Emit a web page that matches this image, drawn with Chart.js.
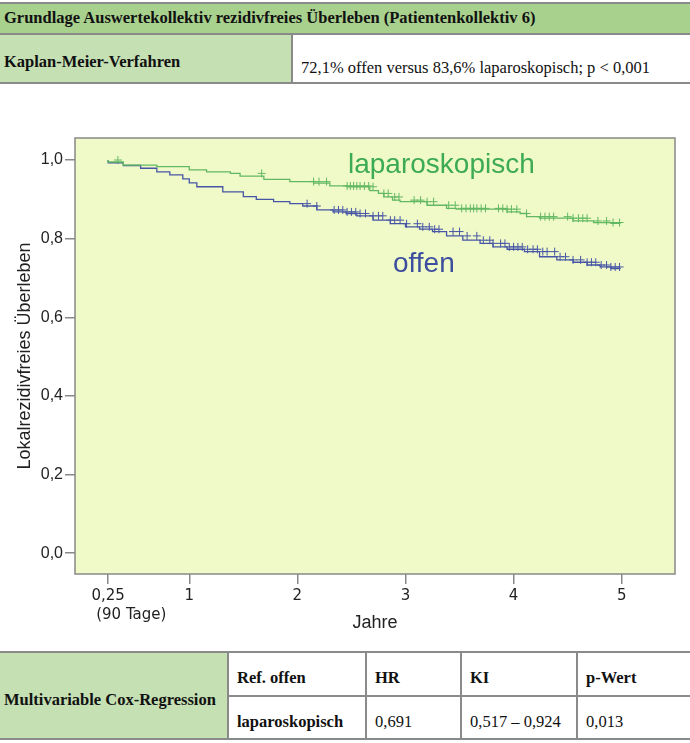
<!DOCTYPE html>
<html>
<head>
<meta charset="utf-8">
<script src="https://cdn.jsdelivr.net/npm/chart.js@4.4.1/dist/chart.umd.min.js"></script>
<style>
  body { margin: 0; width: 690px; height: 743px; background: #fff; position: relative; overflow: hidden; }
  .box { position: absolute; box-sizing: border-box; }
  .hl { position: absolute; height: 2px; background: #8a8a8a; }
  .vl { position: absolute; width: 2px; background: #8a8a8a; }
  .t { position: absolute; font-family: "Liberation Serif", serif; font-size: 16.5px; color: #111; white-space: nowrap; line-height: 20px; }
  .b { font-weight: bold; }
</style>
</head>
<body>
<!-- top table -->
<div class="box" style="left:0;top:3px;width:690px;height:31px;background:#a9d18e"></div>
<div class="box" style="left:0;top:34px;width:292px;height:49px;background:#c5e0b3"></div>
<div class="hl" style="left:0;top:2px;width:690px"></div>
<div class="hl" style="left:0;top:33px;width:690px"></div>
<div class="hl" style="left:0;top:82px;width:690px"></div>
<div class="vl" style="left:291px;top:33px;height:50px"></div>
<div class="t b" style="left:4px;top:8px">Grundlage Auswertekollektiv rezidivfreies Überleben (Patientenkollektiv 6)</div>
<div class="t b" style="left:4px;top:52px">Kaplan-Meier-Verfahren</div>
<div class="t" style="left:301px;top:58px">72,1% offen versus 83,6% laparoskopisch; p &lt; 0,001</div>

<div style="position:absolute;left:0;top:95px;width:690px;height:550px"><canvas id="km"></canvas></div>

<!-- bottom table -->
<div class="box" style="left:0;top:652px;width:228px;height:87px;background:#c5e0b3"></div>
<div class="hl" style="left:0;top:651px;width:690px"></div>
<div class="hl" style="left:228px;top:695px;width:462px"></div>
<div class="hl" style="left:0;top:738px;width:690px"></div>
<div class="vl" style="left:227px;top:651px;height:89px"></div>
<div class="vl" style="left:365px;top:651px;height:89px"></div>
<div class="vl" style="left:460px;top:651px;height:89px"></div>
<div class="vl" style="left:576px;top:651px;height:89px"></div>
<div class="t b" style="left:4px;top:690px">Multivariable Cox-Regression</div>
<div class="t b" style="left:237px;top:668px">Ref. offen</div>
<div class="t b" style="left:375px;top:668px">HR</div>
<div class="t b" style="left:470px;top:668px">KI</div>
<div class="t b" style="left:586px;top:668px">p-Wert</div>
<div class="t b" style="left:237px;top:712px">laparoskopisch</div>
<div class="t" style="left:375px;top:712px">0,691</div>
<div class="t" style="left:470px;top:712px">0,517 – 0,924</div>
<div class="t" style="left:586px;top:712px">0,013</div>

<script>
// Kaplan-Meier curves (years, survival)
const lapTime = [0.25, 0.39, 0.70, 1.00, 1.16, 1.38, 1.47, 1.69, 1.93, 2.15, 2.30, 2.46, 2.67, 2.75, 2.80, 2.88, 2.95, 3.20, 3.38, 3.47, 3.94, 4.06, 4.12, 4.24, 4.55, 4.74, 4.90, 4.99];
const lapSurv = [1.000, 0.995, 0.987, 0.983, 0.975, 0.970, 0.966, 0.959, 0.951, 0.945, 0.941, 0.934, 0.932, 0.922, 0.915, 0.906, 0.898, 0.894, 0.885, 0.877, 0.875, 0.868, 0.864, 0.856, 0.852, 0.845, 0.841, 0.839];

const offTime = [0.25, 0.39, 0.55, 0.70, 0.82, 0.94, 1.00, 1.07, 1.31, 1.50, 1.62, 1.78, 1.93, 2.05, 2.18, 2.33, 2.45, 2.55, 2.70, 2.86, 3.00, 3.13, 3.25, 3.38, 3.53, 3.69, 3.81, 3.94, 4.10, 4.24, 4.40, 4.55, 4.68, 4.80, 4.90, 4.99];
const offSurv = [1.000, 0.993, 0.986, 0.979, 0.970, 0.962, 0.952, 0.942, 0.932, 0.919, 0.907, 0.900, 0.894, 0.889, 0.883, 0.873, 0.868, 0.864, 0.858, 0.847, 0.838, 0.830, 0.824, 0.818, 0.807, 0.796, 0.788, 0.779, 0.773, 0.767, 0.754, 0.746, 0.740, 0.733, 0.728, 0.724];

// censored cases (years)
const lapCensor = [0.34, 1.67, 2.15, 2.20, 2.27, 2.46, 2.49, 2.52, 2.55, 2.58, 2.62, 2.66, 2.70, 2.80, 2.84, 2.90, 2.94, 3.08, 3.14, 3.20, 3.26, 3.40, 3.46, 3.52, 3.56, 3.60, 3.63, 3.66, 3.70, 3.74, 3.86, 3.90, 3.94, 3.98, 4.03, 4.12, 4.25, 4.29, 4.33, 4.37, 4.50, 4.55, 4.60, 4.64, 4.68, 4.78, 4.86, 4.92, 4.98];
const offCensor = [2.09, 2.18, 2.34, 2.38, 2.42, 2.46, 2.50, 2.54, 2.58, 2.63, 2.70, 2.75, 2.79, 2.86, 2.90, 2.95, 3.01, 3.11, 3.16, 3.22, 3.27, 3.31, 3.44, 3.50, 3.57, 3.66, 3.72, 3.78, 3.81, 3.88, 3.92, 3.96, 4.00, 4.04, 4.08, 4.13, 4.18, 4.22, 4.27, 4.31, 4.38, 4.43, 4.48, 4.55, 4.62, 4.68, 4.72, 4.76, 4.81, 4.86, 4.90, 4.94, 4.98];

const xTickValues = [0.25, 1, 2, 3, 4, 5];
const xTickLabels = ['0,25', '1', '2', '3', '4', '5'];
const yTickValues = [0, 0.2, 0.4, 0.6, 0.8, 1.0];
const yTickLabels = ['0,0', '0,2', '0,4', '0,6', '0,8', '1,0'];

const GREEN_LINE = '#62b862';
const GREEN_TEXT = '#3daa55';
const BLUE_LINE = '#4655a5';
const BLUE_TEXT = '#3d4e9e';
const AXIS = '#888888';

// survival at time t = last step at or before t
function survAt(times, surv, t) {
    let s = surv[0];
    for (let i = 0; i < times.length; i++) {
        if (times[i] <= t) s = surv[i];
    }
    return s;
}

const plotFrame = {
    id: 'plotFrame',
    beforeDraw(chart) {
        const { ctx, chartArea: a } = chart;
        ctx.save();
        ctx.fillStyle = '#f0fac8';
        ctx.fillRect(a.left, a.top, a.right - a.left, a.bottom - a.top);
        ctx.restore();
    },
    afterDraw(chart) {
        const { ctx, chartArea: a, scales: { x, y } } = chart;
        ctx.save();
        ctx.strokeStyle = AXIS;
        ctx.lineWidth = 1.5;
        ctx.strokeRect(a.left, a.top, a.right - a.left, a.bottom - a.top);

        ctx.font = '28px "Liberation Sans", Arial, sans-serif';
        ctx.textBaseline = 'alphabetic';
        ctx.textAlign = 'left';
        ctx.fillStyle = GREEN_TEXT;
        ctx.fillText('laparoskopisch', x.getPixelForValue(2.468), y.getPixelForValue(0.967));
        ctx.fillStyle = BLUE_TEXT;
        ctx.fillText('offen', x.getPixelForValue(2.884), y.getPixelForValue(0.716));

        // second line under the 0,25 tick
        ctx.font = '15px "DejaVu Sans", sans-serif';
        ctx.fillStyle = '#222';
        ctx.textBaseline = 'middle';
        ctx.fillText('(90 Tage)', x.getPixelForValue(0.25) - 12, a.bottom + 41);
        ctx.restore();
    }
};

new Chart(document.getElementById('km').getContext('2d'), {
    type: 'scatter',
    plugins: [plotFrame],
    data: {
        datasets: [
            {
                label: 'laparoskopisch',
                data: lapTime.map((t, i) => ({ x: t, y: lapSurv[i] })),
                showLine: true,
                stepped: 'after',
                borderColor: GREEN_LINE,
                borderWidth: 1.3,
                pointRadius: 0
            },
            {
                label: 'offen',
                data: offTime.map((t, i) => ({ x: t, y: offSurv[i] })),
                showLine: true,
                stepped: 'after',
                borderColor: BLUE_LINE,
                borderWidth: 1.3,
                pointRadius: 0
            },
            {
                label: 'laparoskopisch zensiert',
                data: lapCensor.map(t => ({ x: t, y: survAt(lapTime, lapSurv, t) })),
                pointStyle: 'cross',
                pointRadius: 4,
                borderColor: GREEN_LINE,
                borderWidth: 1
            },
            {
                label: 'offen zensiert',
                data: offCensor.map(t => ({ x: t, y: survAt(offTime, offSurv, t) })),
                pointStyle: 'cross',
                pointRadius: 4,
                borderColor: BLUE_LINE,
                borderWidth: 1
            }
        ]
    },
    options: {
        responsive: true,
        maintainAspectRatio: false,
        animation: false,
        layout: { padding: { top: 43, right: 15, bottom: 11, left: 0 } },
        plugins: { legend: { display: false }, tooltip: { enabled: false } },
        scales: {
            x: {
                type: 'linear',
                min: -0.057,
                max: 5.493,
                afterBuildTicks: s => { s.ticks = xTickValues.map(v => ({ value: v })); },
                afterFit: s => { s.height = 60; },
                ticks: {
                    callback: v => xTickLabels[xTickValues.indexOf(v)],
                    color: '#222',
                    font: { family: 'DejaVu Sans', size: 15 },
                    padding: 3,
                    maxRotation: 0,
                    autoSkip: false
                },
                grid: { drawOnChartArea: false, tickLength: 10, color: AXIS, lineWidth: 1.5 },
                border: { display: false },
                title: {
                    display: true,
                    text: 'Jahre',
                    color: '#222',
                    font: { family: 'Liberation Sans', size: 18 },
                    padding: 0
                }
            },
            y: {
                min: -0.053,
                max: 1.056,
                afterBuildTicks: s => { s.ticks = yTickValues.map(v => ({ value: v })); },
                afterFit: s => { s.width = 75; },
                ticks: {
                    callback: v => yTickLabels[yTickValues.indexOf(v)],
                    color: '#222',
                    font: { family: 'Liberation Sans', size: 16 },
                    padding: 2
                },
                grid: { drawOnChartArea: false, tickLength: 10, color: AXIS, lineWidth: 1.5 },
                border: { display: false },
                title: {
                    display: true,
                    text: 'Lokalrezidivfreies Überleben',
                    color: '#222',
                    font: { family: 'Liberation Sans', size: 18 },
                    padding: { top: 14, bottom: 0 }
                }
            }
        }
    }
});
</script>
</body>
</html>
